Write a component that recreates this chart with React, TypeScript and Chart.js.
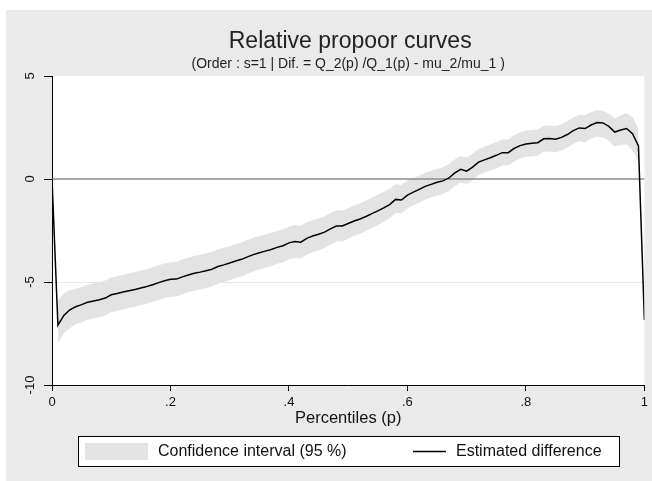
import { useEffect, useRef } from 'react';
import { Chart, registerables } from 'chart.js';

Chart.register(...registerables);

const TITLE = 'Relative propoor curves';
const SUBTITLE = '(Order : s=1 | Dif. = Q_2(p) /Q_1(p) - mu_2/mu_1 )';
const X_TITLE = 'Percentiles (p)';
const LEGEND_CI = 'Confidence interval (95 %)';
const LEGEND_EST = 'Estimated difference';

const percentiles = [
  0, 0.01, 0.02, 0.03, 0.04, 0.05, 0.06, 0.07, 0.08, 0.09,
  0.1, 0.11, 0.12, 0.13, 0.14, 0.15, 0.16, 0.17, 0.18, 0.19,
  0.2, 0.21, 0.22, 0.23, 0.24, 0.25, 0.26, 0.27, 0.28, 0.29,
  0.3, 0.31, 0.32, 0.33, 0.34, 0.35, 0.36, 0.37, 0.38, 0.39,
  0.4, 0.41, 0.42, 0.43, 0.44, 0.45, 0.46, 0.47, 0.48, 0.49,
  0.5, 0.51, 0.52, 0.53, 0.54, 0.55, 0.56, 0.57, 0.58, 0.59,
  0.6, 0.61, 0.62, 0.63, 0.64, 0.65, 0.66, 0.67, 0.68, 0.69,
  0.7, 0.71, 0.72, 0.73, 0.74, 0.75, 0.76, 0.77, 0.78, 0.79,
  0.8, 0.81, 0.82, 0.83, 0.84, 0.85, 0.86, 0.87, 0.88, 0.89,
  0.9, 0.91, 0.92, 0.93, 0.94, 0.95, 0.96, 0.97, 0.98, 0.99,
  1,
];

const estimatedDifference = [
  0, -7.1, -6.62, -6.35, -6.2, -6.1, -5.98, -5.92, -5.86, -5.78,
  -5.62, -5.56, -5.49, -5.42, -5.36, -5.29, -5.22, -5.13, -5.03, -4.94,
  -4.87, -4.86, -4.75, -4.66, -4.58, -4.52, -4.45, -4.38, -4.25, -4.17,
  -4.08, -3.98, -3.9, -3.78, -3.67, -3.58, -3.5, -3.42, -3.32, -3.24,
  -3.1, -3.03, -3.07, -2.88, -2.77, -2.68, -2.58, -2.42, -2.28, -2.28,
  -2.16, -2.04, -1.94, -1.82, -1.68, -1.55, -1.4, -1.24, -0.99, -1.02,
  -0.78, -0.64, -0.5, -0.36, -0.26, -0.16, -0.09, 0.05, 0.3, 0.47,
  0.38, 0.58, 0.82, 0.93, 1.03, 1.15, 1.28, 1.28, 1.48, 1.62,
  1.7, 1.74, 1.76, 1.95, 1.96, 1.93, 2.02, 2.16, 2.35, 2.48,
  2.45, 2.62, 2.74, 2.72, 2.55, 2.28, 2.38, 2.45, 2.2, 1.6,
  -6.84,
];

const ciUpper = [
  null, -5.9, -5.55, -5.4, -5.32, -5.24, -5.13, -5.07, -5.01, -4.93,
  -4.78, -4.72, -4.65, -4.58, -4.52, -4.45, -4.38, -4.29, -4.19, -4.1,
  -4.03, -4.02, -3.91, -3.82, -3.74, -3.68, -3.61, -3.54, -3.42, -3.34,
  -3.25, -3.15, -3.07, -2.96, -2.85, -2.77, -2.69, -2.61, -2.52, -2.44,
  -2.3, -2.23, -2.28, -2.1, -1.99, -1.9, -1.81, -1.65, -1.52, -1.53,
  -1.42, -1.28, -1.18, -1.05, -0.9, -0.76, -0.62, -0.47, -0.25, -0.29,
  -0.07, 0.05, 0.17, 0.3, 0.4, 0.5, 0.57, 0.71, 0.95, 1.12,
  1.04, 1.23, 1.46, 1.57, 1.67, 1.79, 1.92, 1.92, 2.12, 2.26,
  2.34, 2.38, 2.4, 2.59, 2.6, 2.57, 2.66, 2.8, 2.99, 3.12,
  3.09, 3.25, 3.34, 3.33, 3.17, 2.93, 3.09, 3.2, 3.0, 2.45,
  null,
];

const ciLower = [
  null, -7.95, -7.5, -7.25, -7.05, -6.95, -6.83, -6.77, -6.71, -6.63,
  -6.47, -6.41, -6.33, -6.26, -6.2, -6.13, -6.06, -5.97, -5.87, -5.78,
  -5.71, -5.7, -5.59, -5.5, -5.42, -5.36, -5.29, -5.22, -5.08, -5.0,
  -4.91, -4.81, -4.73, -4.6, -4.49, -4.39, -4.31, -4.23, -4.12, -4.04,
  -3.9, -3.83, -3.86, -3.66, -3.55, -3.46, -3.35, -3.19, -3.04, -3.03,
  -2.9, -2.77, -2.66, -2.53, -2.38, -2.24, -2.08, -1.91, -1.65, -1.67,
  -1.43, -1.28, -1.15, -1.0, -0.9, -0.8, -0.73, -0.59, -0.34, -0.17,
  -0.26, -0.06, 0.19, 0.3, 0.4, 0.52, 0.65, 0.65, 0.85, 0.99,
  1.07, 1.11, 1.13, 1.32, 1.33, 1.3, 1.38, 1.52, 1.7, 1.83,
  1.79, 1.95, 2.05, 2.02, 1.85, 1.58, 1.65, 1.68, 1.4, 0.85,
  null,
];

const referenceLineX = [0, 1];
const referenceLineY = [0, 0];

const xTicks = [0, 0.2, 0.4, 0.6, 0.8, 1];
const xTickLabels = ['0', '.2', '.4', '.6', '.8', '1'];
const yTicks = [-10, -5, 0, 5];
const yTickLabels = ['-10', '-5', '0', '5'];

const FONT = '"Liberation Sans", Arial, Helvetica, sans-serif';
const BG = '#eaeaea';
const BAND = '#e3e3e3';

const toPoints = (xs: number[], ys: (number | null)[]) =>
  xs
    .map((x, i) => ({ x, y: ys[i] }))
    .filter((d) => d.y !== null) as { x: number; y: number }[];

const decorPlugin = {
  id: 'stataDecor',
  beforeDraw(chart: any) {
    const { ctx, chartArea: a, width, height } = chart;
    ctx.save();
    ctx.fillStyle = '#ffffff';
    ctx.fillRect(0, 0, width, height);
    ctx.fillStyle = BG;
    ctx.fillRect(6, 10, width - 6, height - 10);
    ctx.fillStyle = '#ffffff';
    ctx.fillRect(a.left, a.top, a.right - a.left, a.bottom - a.top);
    ctx.restore();
  },
  afterDraw(chart: any) {
    const { ctx, chartArea: a } = chart;
    const cx = (a.left + a.right) / 2 + 2;
    ctx.save();
    ctx.fillStyle = '#222';
    ctx.textAlign = 'center';
    ctx.textBaseline = 'middle';
    ctx.font = `23px ${FONT}`;
    ctx.fillText(TITLE, cx, 42);
    ctx.font = `14px ${FONT}`;
    ctx.fillText(SUBTITLE, cx - 2, 64);

    // legend
    ctx.fillStyle = '#ffffff';
    ctx.fillRect(78, 436, 541, 30);
    ctx.strokeStyle = '#000';
    ctx.lineWidth = 1;
    ctx.strokeRect(78.5, 436.5, 541, 30);
    ctx.fillStyle = BAND;
    ctx.fillRect(85, 443, 63, 17);
    ctx.fillStyle = '#111';
    ctx.textAlign = 'left';
    ctx.font = `16px ${FONT}`;
    ctx.fillText(LEGEND_CI, 158, 452);
    ctx.strokeStyle = '#000';
    ctx.lineWidth = 1.5;
    ctx.beginPath();
    ctx.moveTo(413, 451.5);
    ctx.lineTo(446, 451.5);
    ctx.stroke();
    ctx.fillText(LEGEND_EST, 456, 452);
    ctx.restore();
  },
};

export default function App() {
  const ref = useRef<HTMLCanvasElement | null>(null);

  useEffect(() => {
    if (!ref.current) return;
    const chart = new Chart(ref.current, {
      type: 'line',
      data: {
        datasets: [
          {
            label: LEGEND_EST,
            data: toPoints(percentiles, estimatedDifference),
            borderColor: '#000',
            borderWidth: 1.5,
            pointRadius: 0,
            fill: false,
            tension: 0,
          },
          {
            label: 'zero',
            data: toPoints(referenceLineX, referenceLineY),
            borderColor: '#8c8c8c',
            borderWidth: 1.5,
            pointRadius: 0,
            fill: false,
          },
          {
            label: LEGEND_CI,
            data: toPoints(percentiles, ciUpper),
            borderColor: 'rgba(0,0,0,0)',
            borderWidth: 1,
            backgroundColor: BAND,
            pointRadius: 0,
            fill: '+1',
          },
          {
            label: 'ci-lower',
            data: toPoints(percentiles, ciLower),
            borderColor: 'rgba(0,0,0,0)',
            borderWidth: 1,
            pointRadius: 0,
            fill: false,
          },
        ],
      },
      options: {
        animation: false,
        responsive: false,
        devicePixelRatio: 1,
        layout: { padding: { top: 76, right: 5, left: 0, bottom: 0 } },
        plugins: {
          legend: { display: false },
          tooltip: { enabled: false },
          title: { display: false },
        },
        scales: {
          x: {
            type: 'linear',
            min: 0,
            max: 1,
            afterBuildTicks: (s: any) => {
              s.ticks = xTicks.map((v) => ({ value: v }));
            },
            afterFit: (s: any) => {
              s.height = 96;
            },
            border: { display: true, color: '#000', width: 1 },
            grid: {
              drawOnChartArea: false,
              drawTicks: true,
              tickLength: 6,
              tickColor: '#000',
            },
            ticks: {
              autoSkip: false,
              maxRotation: 0,
              minRotation: 0,
              padding: 4,
              color: '#111',
              font: { family: FONT, size: 13 },
              callback: (v: any) => xTickLabels[xTicks.indexOf(Number(v))] ?? '',
            },
            title: {
              display: true,
              text: X_TITLE,
              color: '#111',
              font: { family: FONT, size: 16.5 },
              padding: { top: 0, bottom: 53 },
            },
          },
          y: {
            type: 'linear',
            min: -10,
            max: 5,
            afterBuildTicks: (s: any) => {
              s.ticks = yTicks.map((v) => ({ value: v }));
            },
            afterFit: (s: any) => {
              s.width = 52;
            },
            border: { display: true, color: '#000', width: 1 },
            grid: {
              drawTicks: true,
              tickLength: 8,
              tickColor: '#000',
              color: (c: any) => (c.tick && c.tick.value === -5 ? '#e6e6e6' : 'rgba(0,0,0,0)'),
            },
            ticks: {
              autoSkip: false,
              minRotation: 90,
              maxRotation: 90,
              crossAlign: 'center',
              padding: 4,
              color: '#111',
              font: { family: FONT, size: 13 },
              callback: (v: any) => yTickLabels[yTicks.indexOf(Number(v))] ?? '',
            },
          },
        },
      },
      plugins: [decorPlugin],
    });
    return () => chart.destroy();
  }, []);

  return (
    <div style={{ position: 'absolute', left: 0, top: 0, width: 652, height: 481 }}>
      <canvas ref={ref} width={652} height={481} style={{ display: 'block' }} />
    </div>
  );
}
